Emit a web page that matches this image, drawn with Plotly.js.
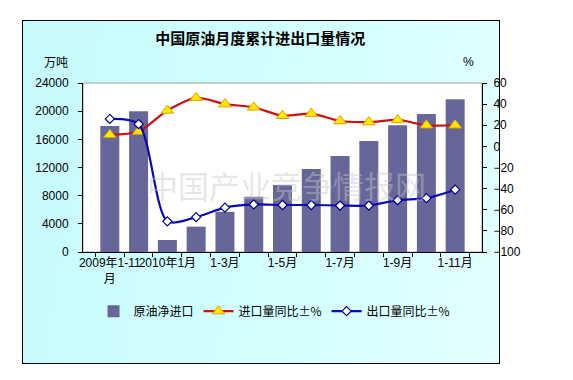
<!DOCTYPE html>
<html>
<head>
<meta charset="utf-8">
<script src="https://cdn.plot.ly/plotly-3.0.1.min.js"></script>
<style>
  html, body { margin: 0; padding: 0; background: #ffffff; }
  #wrap { position: relative; width: 573px; height: 380px; }
  #bg { position: absolute; left: 22px; top: 20px; width: 476px; height: 342px;
        border: 1px solid #000; background: linear-gradient(100deg, #c6fbfb 0%, #d4ffff 60%, #e4ffff 100%); }
  #chart { position: absolute; left: 0; top: 0; width: 573px; height: 380px; }
</style>
</head>
<body>
<div id="wrap">
  <div id="bg"></div>
  <div id="chart"></div>
</div>
<script>
// ---- data ----
const categories = ["2009年1-11月", "2009年1-12月", "2010年1月", "1-2月", "1-3月", "1-4月", "1-5月",
                    "1-6月", "1-7月", "1-8月", "1-9月", "1-10月", "1-11月"];
const tickLabels = ["2009年1-11<br>月", "", "2010年1月", "", "1-3月", "", "1-5月",
                    "", "1-7月", "", "1-9月", "", "1-11月"];
const netImport = [17900, 20000, 1700, 3600, 5700, 7850, 9500, 11800, 13650, 15750, 18000, 19600, 21700];
const importYoY = [11, 14, 34, 46, 40, 37, 29, 31, 24, 23, 25, 20, 20];
const exportYoY = [26, 21, -71, -67, -58, -55, -55.5, -55.5, -56, -56, -51, -49, -41];
const seriesNames = ["原油净进口", "进口量同比±%", "出口量同比±%"];
const titleText = "中国原油月度累计进出口量情况";
const leftUnit = "万吨";
const rightUnit = "%";
const watermark = "中国产业竞争情报网";

const font = "Arial, 'Liberation Sans', 'Noto Sans CJK SC', sans-serif";
const cjk = "'Noto Sans CJK SC', 'Liberation Sans', sans-serif";

const traces = [
  {
    type: "bar", name: seriesNames[0], x: categories, y: netImport,
    marker: { color: "#666699" }, yaxis: "y"
  },
  {
    type: "scatter", mode: "lines+markers", name: seriesNames[1], x: categories, y: importYoY,
    yaxis: "y2",
    line: { color: "#cc1010", width: 2.2, shape: "spline", smoothing: 0.8 },
    marker: { symbol: "triangle-up", size: 11, color: "#ffe800", line: { color: "#e0a000", width: 1 } }
  },
  {
    type: "scatter", mode: "lines+markers", name: seriesNames[2], x: categories, y: exportYoY,
    yaxis: "y2",
    line: { color: "#0a0ab4", width: 2.2, shape: "spline", smoothing: 0.8 },
    marker: { symbol: "diamond", size: 7, color: "#ffffff", line: { color: "#00008a", width: 1.2 } }
  }
];

const layout = {
  width: 573, height: 380,
  margin: { l: 83, r: 91, t: 83, b: 128, pad: 0 },
  paper_bgcolor: "rgba(0,0,0,0)",
  plot_bgcolor: "#ffffff",
  showlegend: true,
  font: { family: font, size: 12, color: "#000" },
  title: {
    text: "<b>" + titleText + "</b>",
    x: 0.454, xref: "container", xanchor: "center",
    y: 0.897, yref: "container", yanchor: "middle",
    font: { family: cjk, size: 15, color: "#000" }
  },
  bargap: 0.34,
  xaxis: {
    type: "category",
    tickvals: categories, ticktext: tickLabels,
    tickson: "boundaries",
    ticks: "outside", ticklen: 4, tickcolor: "#000",
    showline: true, linecolor: "#000", linewidth: 1,
    showgrid: false, zeroline: false,
    tickangle: 0,
    tickfont: { family: font, size: 12, color: "#000" }
  },
  yaxis: {
    range: [0, 24000], dtick: 4000, tick0: 0,
    tickformat: "d", exponentformat: "none",
    ticks: "outside", ticklen: 4, tickcolor: "#000",
    showline: true, linecolor: "#000", linewidth: 1,
    showgrid: false, zeroline: false,
    tickfont: { family: font, size: 12, color: "#000" },
    ticklabelstandoff: 7
  },
  yaxis2: {
    overlaying: "y", side: "right",
    range: [-100, 60], dtick: 20, tick0: -100,
    tickformat: "d",
    ticks: "outside", ticklen: 4, tickcolor: "#000",
    showline: true, linecolor: "#000", linewidth: 1,
    showgrid: false, zeroline: false,
    tickfont: { family: font, size: 12, color: "#000" },
    ticklabelstandoff: 4
  },
  legend: {
    orientation: "h", x: 0.48, xanchor: "center", y: -0.35, yanchor: "middle",
    bgcolor: "rgba(0,0,0,0)",
    font: { family: cjk, size: 12, color: "#000" },
    itemwidth: 30, tracegroupgap: 0
  },
  shapes: [
    { type: "rect", xref: "paper", yref: "paper", x0: 0, x1: 1, y0: 0, y1: 1,
      line: { color: "#a0a0a0", width: 1 }, fillcolor: "rgba(0,0,0,0)", layer: "below" }
  ],
  annotations: [
    { text: leftUnit, xref: "paper", yref: "paper", x: -0.068, y: 1.13,
      xanchor: "center", yanchor: "middle", showarrow: false,
      font: { family: cjk, size: 12, color: "#000" } },
    { text: rightUnit, xref: "paper", yref: "paper", x: 0.965, y: 1.124,
      xanchor: "center", yanchor: "middle", showarrow: false,
      font: { family: font, size: 12, color: "#000" } },
    { text: watermark, xref: "paper", yref: "paper", x: 0.51, y: 0.4,
      xanchor: "center", yanchor: "middle", showarrow: false,
      font: { family: cjk, size: 31, color: "rgba(200,200,200,0.45)" } }
  ]
};

Plotly.newPlot("chart", traces, layout, { displayModeBar: false, staticPlot: true });
</script>
</body>
</html>
